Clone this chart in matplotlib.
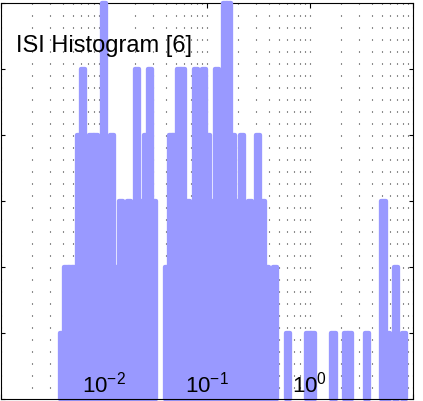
import matplotlib
matplotlib.use("Agg")
import matplotlib.pyplot as plt
import numpy as np

plt.rcParams['font.family'] = ['Liberation Sans', 'DejaVu Sans']
plt.rcParams['mathtext.fontset'] = 'custom'
plt.rcParams['mathtext.rm'] = 'Liberation Sans'
plt.rcParams['mathtext.it'] = 'Liberation Sans:italic'
plt.rcParams['mathtext.bf'] = 'Liberation Sans:bold'

# ---- data: ISI bin centres (s) and counts ----
isi_centers = [0.003977, 0.004365, 0.004791, 0.005258, 0.005771, 0.006334,
               0.006952, 0.007630, 0.008375, 0.009192, 0.01009, 0.01108,
               0.01216, 0.01335, 0.01465, 0.01608, 0.01765, 0.01937,
               0.02126, 0.02333, 0.02561, 0.02811, 0.03085,
               0.04083, 0.04481, 0.04918, 0.05398, 0.05925, 0.06503,
               0.07137, 0.07834, 0.08598, 0.09437, 0.1036, 0.1137,
               0.1248, 0.1370, 0.1504, 0.1650, 0.1811, 0.1988,
               0.2182, 0.2395, 0.2629, 0.2885, 0.3167, 0.3476,
               0.3815, 0.4187, 0.4596, 0.6080, 0.9689, 1.063,
               1.694, 2.240, 2.459, 3.569, 5.182, 5.687, 6.851, 8.254]
counts = [1, 2, 2, 2, 4, 5,
          2, 4, 4, 3, 6, 2,
          4, 2, 3, 2, 3, 2,
          5, 3, 4, 5, 3,
          2, 4, 4, 5, 5, 3,
          2, 5, 2, 5, 4, 3,
          5, 4, 6, 6, 4, 3,
          4, 2, 3, 2, 4, 3,
          2, 1, 2, 1, 1, 1,
          1, 1, 1, 1, 3, 1, 2, 1]
title_text = "ISI Histogram [6]"
xtick_values = [1e-2, 1e-1, 1e0]
xtick_labels = [r"$10^{-2}$", r"$10^{-1}$", r"$10^{0}$"]

bar_color = '#9999ff'
half_bin = 1.04765  # multiplicative half-width of a log bin

fig = plt.figure(figsize=(4.23, 4.01), dpi=100)
ax = fig.add_axes([0.5 / 423, 2 / 401, 412.5 / 423, 396 / 401])
ax.set_xscale('log')

centers = np.array(isi_centers)
lefts = centers / half_bin
widths = centers * half_bin - lefts
ax.bar(lefts, counts, width=widths, align='edge', color=bar_color,
       edgecolor=bar_color, linewidth=3.1, joinstyle='round',
       clip_on=False, zorder=2)

ax.set_xlim(10 ** -2.9913, 10 ** 0.9865)
ax.set_ylim(0, 6)
ax.set_yticks(range(0, 7))
ax.set_xticks([1e-3, 1e-2, 1e-1, 1e0, 1e1])
ax.tick_params(axis='x', which='major', direction='in', length=3.5, width=0.8,
               top=True, bottom=True, labelbottom=False)
ax.tick_params(axis='x', which='minor', length=0)
ax.tick_params(axis='y', direction='in', length=3, width=0.8,
               left=True, right=True, labelleft=False)
ax.set_axisbelow(True)
ax.grid(True, axis='x', which='both', color='0.1', linewidth=0.8,
        linestyle=(0.9, (0.9, 9.9)))
for s in ax.spines.values():
    s.set_linewidth(0.8)
    s.set_color('black')
ax.spines['top'].set_zorder(1)

for xv, lab in zip(xtick_values, xtick_labels):
    ax.annotate(lab, xy=(xv, 0), xycoords=('data', 'axes fraction'),
                xytext=(0, 4.5), textcoords='offset points',
                ha='center', va='baseline', fontsize=16, zorder=5)

ax.text(0.0383, 0.877, title_text, transform=ax.transAxes, fontsize=17,
        ha='left', va='baseline', zorder=5)

fig.savefig('out.png', dpi=100)
